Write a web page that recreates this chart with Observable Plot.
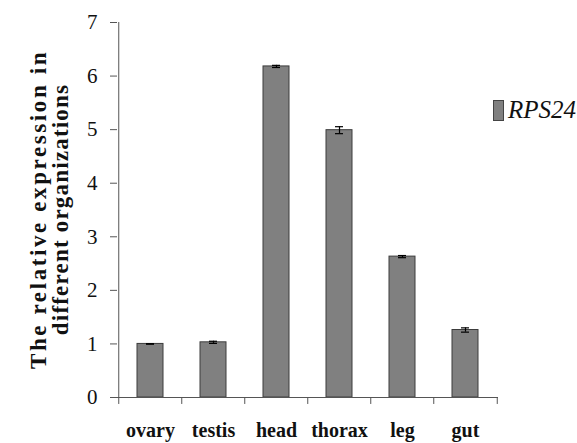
<!DOCTYPE html>
<html><head><meta charset="utf-8">
<script src="https://cdn.jsdelivr.net/npm/d3@7"></script>
<script src="https://cdn.jsdelivr.net/npm/@observablehq/plot@0.6"></script>
<style>
body{margin:0;background:#fff;}
#wrap{position:relative;width:577px;height:443px;overflow:hidden;}
.legend{position:absolute;left:493px;top:96px;display:flex;align-items:center;font-family:"Liberation Serif",serif;font-style:italic;font-size:25px;color:#111;white-space:nowrap;}
.sw{width:11px;height:21px;background:#808080;border:1px solid #444;box-sizing:border-box;margin-right:4px;}
</style></head><body><div id="wrap"></div>
<script>
const categories = ["ovary","testis","head","thorax","leg","gut"];
const values = [1.00, 1.03, 6.18, 4.99, 2.63, 1.26];
const errors = [0.005, 0.02, 0.02, 0.065, 0.02, 0.04];
const seriesName = "RPS24";
const yTicks = [0,1,2,3,4,5,6,7];
const yTitle = ["The relative expression in","different organizations"];

const data = categories.map((c,i)=>({c, v: values[i], e: errors[i]}));
const W = 577, H = 443, mL = 117, mR = 79, mT = 22, mB = 46;
const pInner = 0.59, pOuter = 0.295;
const stepPx = (W - mL - mR) / (categories.length - pInner + 2*pOuter);
const half = stepPx/2;
const serif = "'Liberation Serif', 'Times New Roman', serif";

const plot = Plot.plot({
  width: W, height: H,
  marginLeft: mL, marginRight: mR, marginTop: mT, marginBottom: mB,
  x: {domain: categories, paddingInner: pInner, paddingOuter: pOuter, tickSize: 0, tickPadding: 25, label: null},
  y: {domain: [0,7], ticks: yTicks, tickFormat: d => String(d), tickSize: 7, tickPadding: 13, label: null},
  style: {fontSize: "21px", fontFamily: serif, color: "#111", background: "#fff"},
  marks: [
    Plot.barY(data, {x: "c", y: "v", fill: "#808080", stroke: "#3c3c3c", strokeWidth: 1}),
    Plot.ruleX(data, {x: "c", y1: d=>d.v-d.e, y2: d=>d.v+d.e, stroke: "#000", strokeWidth: 1.2}),
    Plot.tickY(data, {x: "c", y: d=>d.v-d.e, stroke: "#000", insetLeft: 9, insetRight: 9, strokeWidth: 1.2}),
    Plot.tickY(data, {x: "c", y: d=>d.v+d.e, stroke: "#000", insetLeft: 9, insetRight: 9, strokeWidth: 1.2}),
    Plot.ruleY([0], {stroke: "#555"}),
    Plot.ruleX(categories.slice(0,1), {x: d=>d, y1: 0, y2: 7, dx: -half, stroke: "#555"}),
    Plot.ruleX(categories, {x: d=>d, y1: 0, y2: -0.13, dx: -half, stroke: "#555"}),
    Plot.ruleX(categories.slice(-1), {x: d=>d, y1: 0, y2: -0.13, dx: half, stroke: "#555"})
  ]
});
const wrap = document.getElementById("wrap");
wrap.appendChild(plot);

const svg = d3.select(plot);
svg.selectAll('g[aria-label="x-axis tick label"] text, g[aria-label="x-axis"] text').style("font-weight","bold").style("font-size","20px");
svg.selectAll('g[aria-label="y-axis tick"], g[aria-label="y-axis"] path').attr("stroke","#555");

const t = svg.append("g").attr("font-weight","bold").attr("font-size","23px").attr("font-family", serif).attr("fill","#111").attr("text-anchor","middle");
[[38, 2.6, yTitle[0]],[60, 1.2, yTitle[1]]].forEach(([x, ls, s]) => {
  t.append("text").attr("transform", `translate(${x},${(mT + H - mB)/2}) rotate(-90)`)
   .attr("dominant-baseline","central").attr("letter-spacing", ls).text(s);
});

const lg = document.createElement("div");
lg.className = "legend";
lg.innerHTML = `<div class="sw"></div><span>${seriesName}</span>`;
wrap.appendChild(lg);
</script></body></html>
